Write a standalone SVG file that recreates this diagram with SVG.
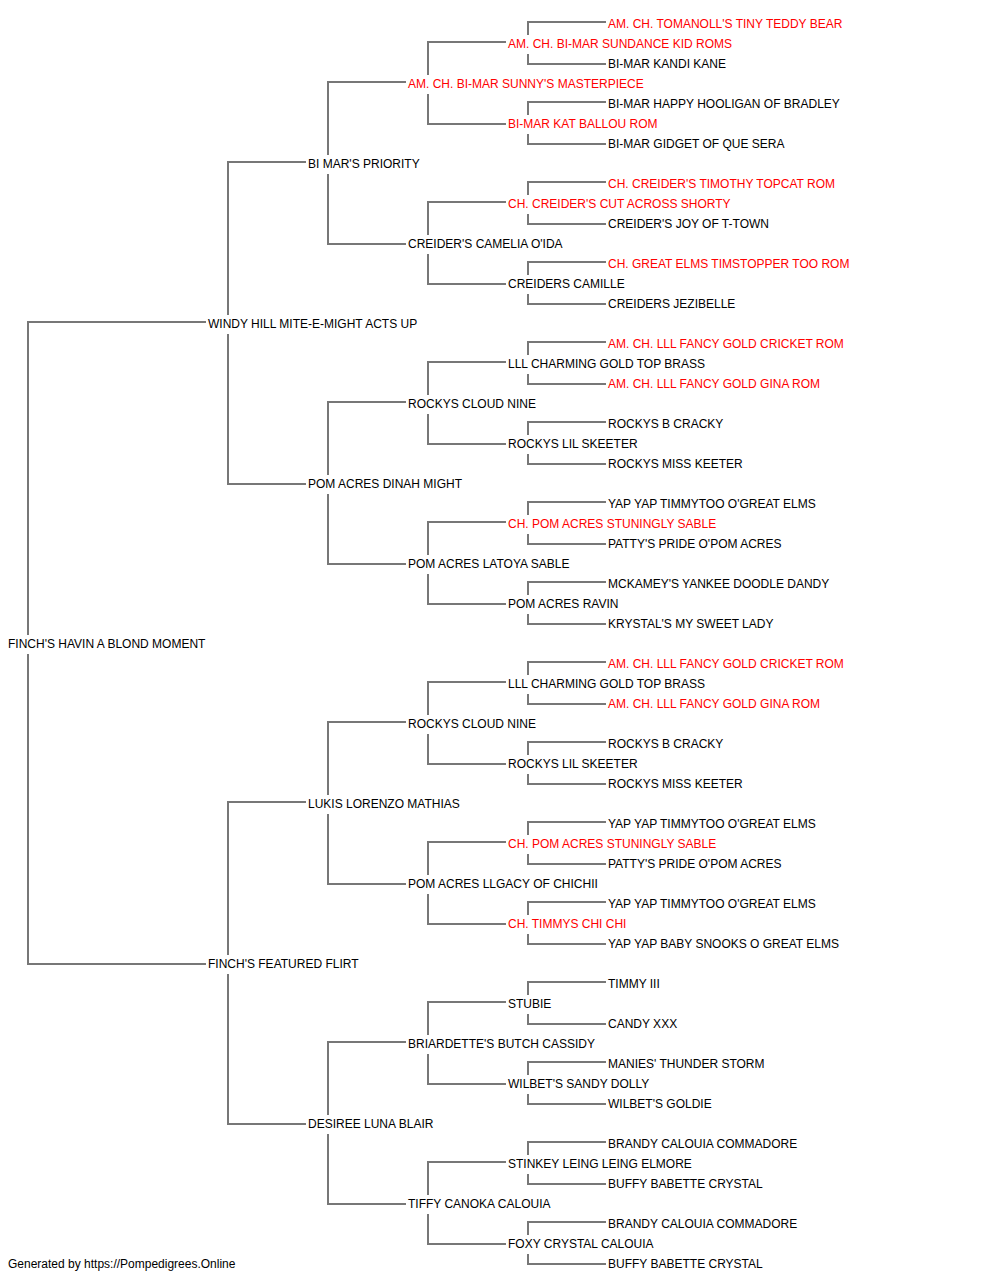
<svg xmlns="http://www.w3.org/2000/svg" width="1000" height="1280" viewBox="0 0 1000 1280">
<style>
text{font-family:"Liberation Sans",Arial,sans-serif;font-size:12px;fill:#000}
text.t{fill:#ff0000}
#connectors path{fill:none;stroke:#777;stroke-width:2}
</style>
<rect width="1000" height="1280" fill="#fff"/>
<g id="connectors">
<path d="M206,322 H28 V635 M28,654 V964 H206"/>
<path d="M306,162 H228 V315 M228,334 V484 H306"/>
<path d="M306,802 H228 V955 M228,974 V1124 H306"/>
<path d="M406,82 H328 V155 M328,174 V244 H406"/>
<path d="M406,402 H328 V475 M328,494 V564 H406"/>
<path d="M406,722 H328 V795 M328,814 V884 H406"/>
<path d="M406,1042 H328 V1115 M328,1134 V1204 H406"/>
<path d="M506,42 H428 V75 M428,94 V124 H506"/>
<path d="M506,202 H428 V235 M428,254 V284 H506"/>
<path d="M506,362 H428 V395 M428,414 V444 H506"/>
<path d="M506,522 H428 V555 M428,574 V604 H506"/>
<path d="M506,682 H428 V715 M428,734 V764 H506"/>
<path d="M506,842 H428 V875 M428,894 V924 H506"/>
<path d="M506,1002 H428 V1035 M428,1054 V1084 H506"/>
<path d="M506,1162 H428 V1195 M428,1214 V1244 H506"/>
<path d="M606,22 H528 V35 M528,54 V64 H606"/>
<path d="M606,102 H528 V115 M528,134 V144 H606"/>
<path d="M606,182 H528 V195 M528,214 V224 H606"/>
<path d="M606,262 H528 V275 M528,294 V304 H606"/>
<path d="M606,342 H528 V355 M528,374 V384 H606"/>
<path d="M606,422 H528 V435 M528,454 V464 H606"/>
<path d="M606,502 H528 V515 M528,534 V544 H606"/>
<path d="M606,582 H528 V595 M528,614 V624 H606"/>
<path d="M606,662 H528 V675 M528,694 V704 H606"/>
<path d="M606,742 H528 V755 M528,774 V784 H606"/>
<path d="M606,822 H528 V835 M528,854 V864 H606"/>
<path d="M606,902 H528 V915 M528,934 V944 H606"/>
<path d="M606,982 H528 V995 M528,1014 V1024 H606"/>
<path d="M606,1062 H528 V1075 M528,1094 V1104 H606"/>
<path d="M606,1142 H528 V1155 M528,1174 V1184 H606"/>
<path d="M606,1222 H528 V1235 M528,1254 V1264 H606"/>
</g>
<g id="g0-r31"><text x="8" y="647.5">FINCH'S HAVIN A BLOND MOMENT</text></g>
<g id="g1-r15"><text x="208" y="327.5">WINDY HILL MITE-E-MIGHT ACTS UP</text></g>
<g id="g1-r47"><text x="208" y="967.5">FINCH'S FEATURED FLIRT</text></g>
<g id="g2-r7"><text x="308" y="167.5">BI MAR'S PRIORITY</text></g>
<g id="g2-r23"><text x="308" y="487.5">POM ACRES DINAH MIGHT</text></g>
<g id="g2-r39"><text x="308" y="807.5">LUKIS LORENZO MATHIAS</text></g>
<g id="g2-r55"><text x="308" y="1127.5">DESIREE LUNA BLAIR</text></g>
<g id="g3-r3"><text class="t" x="408" y="87.5">AM. CH. BI-MAR SUNNY'S MASTERPIECE</text></g>
<g id="g3-r11"><text x="408" y="247.5">CREIDER'S CAMELIA O'IDA</text></g>
<g id="g3-r19"><text x="408" y="407.5">ROCKYS CLOUD NINE</text></g>
<g id="g3-r27"><text x="408" y="567.5">POM ACRES LATOYA SABLE</text></g>
<g id="g3-r35"><text x="408" y="727.5">ROCKYS CLOUD NINE</text></g>
<g id="g3-r43"><text x="408" y="887.5">POM ACRES LLGACY OF CHICHII</text></g>
<g id="g3-r51"><text x="408" y="1047.5">BRIARDETTE'S BUTCH CASSIDY</text></g>
<g id="g3-r59"><text x="408" y="1207.5">TIFFY CANOKA CALOUIA</text></g>
<g id="g4-r1"><text class="t" x="508" y="47.5">AM. CH. BI-MAR SUNDANCE KID ROMS</text></g>
<g id="g4-r5"><text class="t" x="508" y="127.5">BI-MAR KAT BALLOU ROM</text></g>
<g id="g4-r9"><text class="t" x="508" y="207.5">CH. CREIDER'S CUT ACROSS SHORTY</text></g>
<g id="g4-r13"><text x="508" y="287.5">CREIDERS CAMILLE</text></g>
<g id="g4-r17"><text x="508" y="367.5">LLL CHARMING GOLD TOP BRASS</text></g>
<g id="g4-r21"><text x="508" y="447.5">ROCKYS LIL SKEETER</text></g>
<g id="g4-r25"><text class="t" x="508" y="527.5">CH. POM ACRES STUNINGLY SABLE</text></g>
<g id="g4-r29"><text x="508" y="607.5">POM ACRES RAVIN</text></g>
<g id="g4-r33"><text x="508" y="687.5">LLL CHARMING GOLD TOP BRASS</text></g>
<g id="g4-r37"><text x="508" y="767.5">ROCKYS LIL SKEETER</text></g>
<g id="g4-r41"><text class="t" x="508" y="847.5">CH. POM ACRES STUNINGLY SABLE</text></g>
<g id="g4-r45"><text class="t" x="508" y="927.5">CH. TIMMYS CHI CHI</text></g>
<g id="g4-r49"><text x="508" y="1007.5">STUBIE</text></g>
<g id="g4-r53"><text x="508" y="1087.5">WILBET'S SANDY DOLLY</text></g>
<g id="g4-r57"><text x="508" y="1167.5">STINKEY LEING LEING ELMORE</text></g>
<g id="g4-r61"><text x="508" y="1247.5">FOXY CRYSTAL CALOUIA</text></g>
<g id="g5-r0"><text class="t" x="608" y="27.5">AM. CH. TOMANOLL'S TINY TEDDY BEAR</text></g>
<g id="g5-r2"><text x="608" y="67.5">BI-MAR KANDI KANE</text></g>
<g id="g5-r4"><text x="608" y="107.5">BI-MAR HAPPY HOOLIGAN OF BRADLEY</text></g>
<g id="g5-r6"><text x="608" y="147.5">BI-MAR GIDGET OF QUE SERA</text></g>
<g id="g5-r8"><text class="t" x="608" y="187.5">CH. CREIDER'S TIMOTHY TOPCAT ROM</text></g>
<g id="g5-r10"><text x="608" y="227.5">CREIDER'S JOY OF T-TOWN</text></g>
<g id="g5-r12"><text class="t" x="608" y="267.5">CH. GREAT ELMS TIMSTOPPER TOO ROM</text></g>
<g id="g5-r14"><text x="608" y="307.5">CREIDERS JEZIBELLE</text></g>
<g id="g5-r16"><text class="t" x="608" y="347.5">AM. CH. LLL FANCY GOLD CRICKET ROM</text></g>
<g id="g5-r18"><text class="t" x="608" y="387.5">AM. CH. LLL FANCY GOLD GINA ROM</text></g>
<g id="g5-r20"><text x="608" y="427.5">ROCKYS B CRACKY</text></g>
<g id="g5-r22"><text x="608" y="467.5">ROCKYS MISS KEETER</text></g>
<g id="g5-r24"><text x="608" y="507.5">YAP YAP TIMMYTOO O'GREAT ELMS</text></g>
<g id="g5-r26"><text x="608" y="547.5">PATTY'S PRIDE O'POM ACRES</text></g>
<g id="g5-r28"><text x="608" y="587.5">MCKAMEY'S YANKEE DOODLE DANDY</text></g>
<g id="g5-r30"><text x="608" y="627.5">KRYSTAL'S MY SWEET LADY</text></g>
<g id="g5-r32"><text class="t" x="608" y="667.5">AM. CH. LLL FANCY GOLD CRICKET ROM</text></g>
<g id="g5-r34"><text class="t" x="608" y="707.5">AM. CH. LLL FANCY GOLD GINA ROM</text></g>
<g id="g5-r36"><text x="608" y="747.5">ROCKYS B CRACKY</text></g>
<g id="g5-r38"><text x="608" y="787.5">ROCKYS MISS KEETER</text></g>
<g id="g5-r40"><text x="608" y="827.5">YAP YAP TIMMYTOO O'GREAT ELMS</text></g>
<g id="g5-r42"><text x="608" y="867.5">PATTY'S PRIDE O'POM ACRES</text></g>
<g id="g5-r44"><text x="608" y="907.5">YAP YAP TIMMYTOO O'GREAT ELMS</text></g>
<g id="g5-r46"><text x="608" y="947.5">YAP YAP BABY SNOOKS O GREAT ELMS</text></g>
<g id="g5-r48"><text x="608" y="987.5">TIMMY III</text></g>
<g id="g5-r50"><text x="608" y="1027.5">CANDY XXX</text></g>
<g id="g5-r52"><text x="608" y="1067.5">MANIES' THUNDER STORM</text></g>
<g id="g5-r54"><text x="608" y="1107.5">WILBET'S GOLDIE</text></g>
<g id="g5-r56"><text x="608" y="1147.5">BRANDY CALOUIA COMMADORE</text></g>
<g id="g5-r58"><text x="608" y="1187.5">BUFFY BABETTE CRYSTAL</text></g>
<g id="g5-r60"><text x="608" y="1227.5">BRANDY CALOUIA COMMADORE</text></g>
<g id="g5-r62"><text x="608" y="1267.5">BUFFY BABETTE CRYSTAL</text></g>
<g id="footer"><text x="8" y="1267.5">Generated by https://Pompedigrees.Online</text></g>
</svg>
